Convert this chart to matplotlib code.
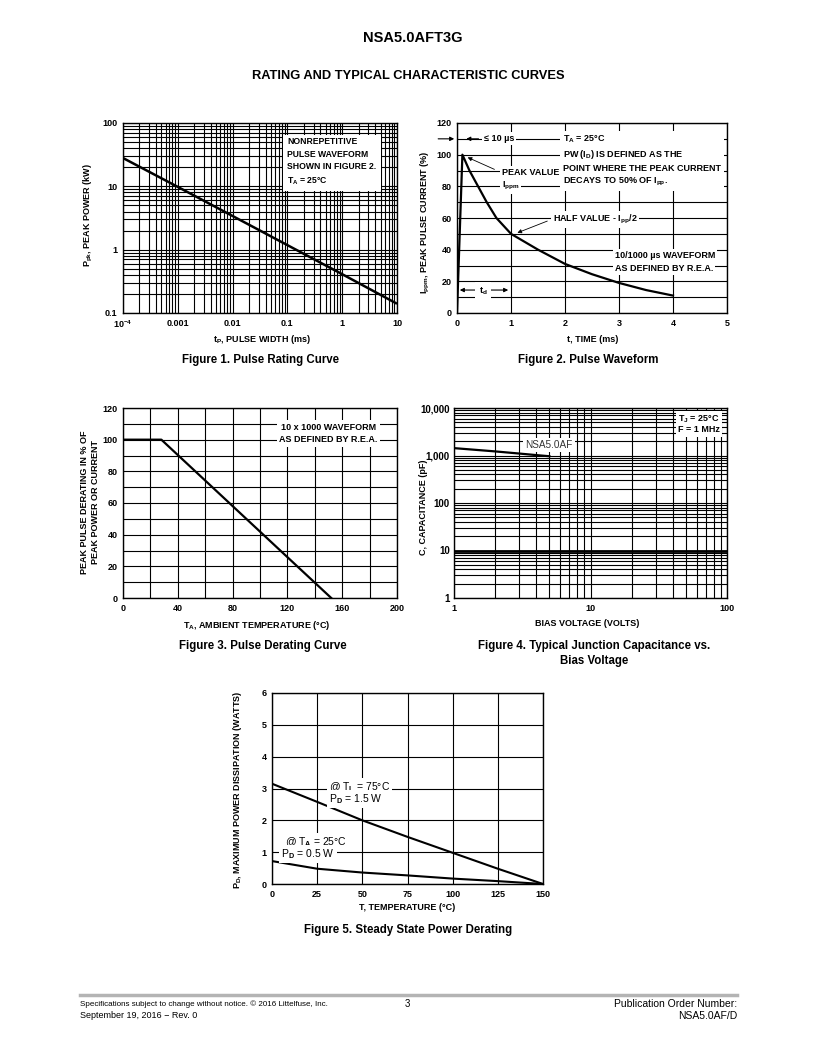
import matplotlib
matplotlib.use("Agg")
import matplotlib.pyplot as plt
import numpy as np
from matplotlib import font_manager
from matplotlib.ticker import FixedLocator, LogLocator, NullFormatter

names = {f.name for f in font_manager.fontManager.ttflist}
narrow = 'Liberation Sans Narrow' if 'Liberation Sans Narrow' in names else 'Liberation Sans'

plt.rcParams['font.family'] = ['Liberation Sans', 'DejaVu Sans']
plt.rcParams['font.weight'] = 'bold'
plt.rcParams['mathtext.fontset'] = 'custom'
plt.rcParams['mathtext.rm'] = 'Liberation Sans'
plt.rcParams['mathtext.bf'] = 'Liberation Sans:bold'
plt.rcParams['mathtext.it'] = 'Liberation Sans:italic'
plt.rcParams['mathtext.default'] = 'bf'

# ---- data ----
# fig 1: pulse rating curve
tp_ms = [1e-4, 1e-3, 1e-2, 0.1, 1, 10]
ppk_kw = [28, 9.8, 3.4, 1.18, 0.41, 0.14]
# fig 2: pulse waveform
t_ms = [0, 0.1, 0.23, 0.39, 0.55, 0.73, 1.0, 1.5, 2.0, 2.5, 3.0, 3.5, 4.0]
ippm = [0, 100, 90, 80, 70, 60, 50, 40, 31, 24.5, 19, 14.5, 11]
# fig 3: pulse derating
ta_c = [0, 28, 152]
derate_pct = [100, 100, 0]
# fig 4: junction capacitance
bias_v = [1, 2, 3, 4, 5]
cap_pf = [1430, 1220, 1100, 1020, 965]
# fig 5: steady state power derating
temp_c = [0, 25, 50, 75, 100, 125, 150]
pd_tl = [3.15, 2.58, 2.0, 1.48, 0.98, 0.48, 0.0]
pd_ta = [0.72, 0.48, 0.36, 0.27, 0.17, 0.09, 0.0]

W, H = 816, 1057
fig = plt.figure(figsize=(W / 100, H / 100), dpi=100)

TICK = 6.5
LAB = 6.5
CAP = 8.3


def ax_at(l, t, r, b):
    return fig.add_axes([l / W, 1 - b / H, (r - l) / W, (b - t) / H])


def ftext(x, y, s, **kw):
    fig.text(x / W, 1 - y / H, s, **kw)


def style(ax):
    ax.grid(True, which='both', color='black', lw=0.8)
    ax.set_axisbelow(True)
    ax.tick_params(which='both', length=0, labelsize=TICK, pad=4)
    for sp in ax.spines.values():
        sp.set_linewidth(1.0)
    for lab in ax.get_xticklabels() + ax.get_yticklabels():
        lab.set_fontweight('bold')


box = dict(facecolor='white', edgecolor='none', pad=1.5)

# ---- page headings ----
ftext(413, 38, 'NSA5.0AFT3G', ha='center', va='center', fontsize=10.5)
ftext(408, 76, 'RATING AND TYPICAL CHARACTERISTIC CURVES', ha='center', va='center', fontsize=9.3)

# ---- Figure 1 ----
ax1 = ax_at(123, 123, 397, 313)
ax1.set_xscale('log')
ax1.set_yscale('log')
ax1.plot(tp_ms, ppk_kw, color='black', lw=1.8, solid_capstyle='butt')
ax1.set_xlim(1e-4, 10)
ax1.set_ylim(0.1, 100)
ax1.xaxis.set_major_locator(FixedLocator([1e-4, 1e-3, 1e-2, 0.1, 1, 10]))
ax1.xaxis.set_minor_locator(LogLocator(base=10, subs=np.arange(2, 10)))
ax1.yaxis.set_major_locator(FixedLocator([0.1, 1, 10, 100]))
ax1.yaxis.set_minor_locator(LogLocator(base=10, subs=np.arange(2, 10)))
ax1.xaxis.set_minor_formatter(NullFormatter())
ax1.yaxis.set_minor_formatter(NullFormatter())
ax1.set_xticklabels(['10$^{-4}$', '0.001', '0.01', '0.1', '1', '10'])
ax1.set_yticklabels(['0.1', '1', '10', '100'])
style(ax1)
ax1.text(0.60, 0.925, 'NONREPETITIVE\nPULSE WAVEFORM\nSHOWN IN FIGURE 2.\nT$_A$ = 25°C',
         transform=ax1.transAxes, ha='left', va='top', fontsize=6.2, linespacing=1.5,
         bbox=dict(facecolor='white', edgecolor='none', pad=3))
ftext(262, 339, 't$_P$, PULSE WIDTH (ms)', ha='center', va='center', fontsize=LAB)
ftext(88, 215, 'P$_{pk}$, PEAK POWER (kW)', ha='center', va='center', fontsize=LAB, rotation=90)
ftext(261, 360, 'Figure 1. Pulse Rating Curve', ha='center', va='center', fontsize=CAP)

# ---- Figure 2 ----
ax2 = ax_at(457, 123, 727, 313)
ax2.plot(t_ms, ippm, color='black', lw=1.6)
ax2.set_xlim(0, 5)
ax2.set_ylim(0, 120)
ax2.set_xticks(range(0, 6))
ax2.set_yticks(range(0, 121, 20))
ax2.yaxis.set_minor_locator(FixedLocator(range(10, 120, 20)))
ax2.xaxis.set_minor_locator(FixedLocator([]))
style(ax2)
arr = dict(arrowstyle='-|>', color='black', lw=0.8, mutation_scale=6)
ax2.annotate('', xy=(0, 110), xytext=(-0.4, 110), arrowprops=arr, annotation_clip=False)
ax2.annotate('', xy=(0.12, 110), xytext=(0.45, 110), arrowprops=arr)
ax2.text(0.5, 110, '≤ 10 µs', ha='left', va='center', fontsize=6.5, bbox=box)
ax2.text(1.96, 113.5, 'T$_A$ = 25°C\nPW (I$_D$) IS DEFINED AS THE\nPOINT WHERE THE PEAK CURRENT\nDECAYS TO 50% OF I$_{pp}$.',
         ha='left', va='top', fontsize=6.5, linespacing=1.4, bbox=dict(facecolor='white', edgecolor='none', pad=2))
ax2.annotate('', xy=(0.15, 99), xytext=(0.74, 90), arrowprops=dict(arrowstyle='-|>', color='black', lw=0.6, mutation_scale=6))
ax2.text(0.83, 89, 'PEAK VALUE', ha='left', va='center', fontsize=6.5, bbox=box)
ax2.text(0.83, 80, 'I$_{ppm}$', ha='left', va='center', fontsize=6.5, bbox=box)
ax2.annotate('', xy=(1.07, 50), xytext=(1.72, 58.7), arrowprops=dict(arrowstyle='-|>', color='black', lw=0.6, mutation_scale=6))
ax2.text(1.77, 59, 'HALF VALUE - I$_{pp}$/2', ha='left', va='center', fontsize=6.5, bbox=box)
ax2.text(2.92, 36, '10/1000 µs WAVEFORM', ha='left', va='center', fontsize=6.5, bbox=box)
ax2.text(2.92, 28, 'AS DEFINED BY R.E.A.', ha='left', va='center', fontsize=6.5, bbox=box)
ax2.annotate('', xy=(0, 14.5), xytext=(1, 14.5), arrowprops=dict(arrowstyle='<|-|>', color='black', lw=0.8, mutation_scale=6))
ax2.text(0.48, 13.5, 't$_d$', ha='center', va='center', fontsize=6.5, bbox=dict(facecolor='white', edgecolor='none', pad=2.5))
ftext(593, 339, 't, TIME (ms)', ha='center', va='center', fontsize=LAB)
ftext(425, 222, 'I$_{ppm}$, PEAK PULSE CURRENT (%)', ha='center', va='center', fontsize=LAB, rotation=90)
ftext(588, 360, 'Figure 2. Pulse Waveform', ha='center', va='center', fontsize=CAP)

# ---- Figure 3 ----
ax3 = ax_at(123, 408, 397, 598)
ax3.plot(ta_c, derate_pct, color='black', lw=1.6)
ax3.set_xlim(0, 200)
ax3.set_ylim(0, 120)
ax3.set_xticks(range(0, 201, 40))
ax3.set_yticks(range(0, 121, 20))
ax3.xaxis.set_minor_locator(FixedLocator(range(20, 200, 40)))
ax3.yaxis.set_minor_locator(FixedLocator(range(10, 120, 20)))
style(ax3)
ax3.text(150, 104, '10 x 1000 WAVEFORM\nAS DEFINED BY R.E.A.', ha='center', va='center',
         fontsize=6.5, linespacing=1.45, bbox=dict(facecolor='white', edgecolor='none', pad=2))
ftext(257, 625, 'T$_A$, AMBIENT TEMPERATURE (°C)', ha='center', va='center', fontsize=LAB)
ftext(90, 502, 'PEAK PULSE DERATING IN % OF\nPEAK POWER OR CURRENT', ha='center', va='center',
      fontsize=LAB, rotation=90, linespacing=1.3)
ftext(263, 646, 'Figure 3. Pulse Derating Curve', ha='center', va='center', fontsize=CAP)

# ---- Figure 4 ----
ax4 = ax_at(454, 408, 727, 598)
ax4.set_xscale('log')
ax4.set_yscale('log')
ax4.plot(bias_v, cap_pf, color='black', lw=1.6)
ax4.set_xlim(1, 100)
ax4.set_ylim(1, 10000)
ax4.xaxis.set_major_locator(FixedLocator([1, 10, 100]))
ax4.yaxis.set_major_locator(FixedLocator([1, 10, 100, 1000, 10000]))
ax4.xaxis.set_minor_locator(LogLocator(base=10, subs=np.arange(2, 10)))
ax4.yaxis.set_minor_locator(LogLocator(base=10, subs=np.arange(2, 10)))
ax4.xaxis.set_minor_formatter(NullFormatter())
ax4.yaxis.set_minor_formatter(NullFormatter())
ax4.set_xticklabels(['1', '10', '100'])
ax4.set_yticklabels(['1', '10', '100', '1,000', '10,000'])
style(ax4)
for lab in ax4.get_yticklabels():
    lab.set_family(narrow)
    lab.set_fontsize(7)
ax4.tick_params(axis='y', pad=3)
ax4.axhline(10, color='black', lw=2)
ax4.text(4.97, 1660, 'NSA5.0AF', ha='center', va='center', fontsize=7.2, fontweight='normal',
         color='#333333', bbox=box)
ax4.text(44, 5900, 'T$_J$ = 25°C', ha='left', va='center', fontsize=6.5, bbox=box)
ax4.text(44, 3450, 'F = 1 MHz', ha='left', va='center', fontsize=6.5, bbox=box)
ftext(587, 623, 'BIAS VOLTAGE (VOLTS)', ha='center', va='center', fontsize=LAB)
ftext(423, 507, 'C, CAPACITANCE (pF)', ha='center', va='center', fontsize=LAB, rotation=90)
ftext(594, 646, 'Figure 4. Typical Junction Capacitance vs.', ha='center', va='center', fontsize=CAP)
ftext(594, 661, 'Bias Voltage', ha='center', va='center', fontsize=CAP)

# ---- Figure 5 ----
ax5 = ax_at(272, 693, 543, 884)
ax5.plot(temp_c, pd_tl, color='black', lw=1.5)
ax5.plot(temp_c, pd_ta, color='black', lw=1.5)
ax5.set_xlim(0, 150)
ax5.set_ylim(0, 6)
ax5.set_xticks(range(0, 151, 25))
ax5.set_yticks(range(0, 7))
style(ax5)
ax5.text(31.5, 3.05, '@ T$_{\\mathrm{L}}$ = 75°C', ha='left', va='center', fontsize=7.5, fontweight='normal', bbox=box)
ax5.text(31.5, 2.67, 'P$_{\\mathrm{D}}$ = 1.5 W', ha='left', va='center', fontsize=7.5, fontweight='normal', bbox=box)
ax5.text(7.2, 1.32, '@ T$_{\\mathrm{A}}$ = 25°C', ha='left', va='center', fontsize=7.5, fontweight='normal', bbox=box)
ax5.text(5, 0.94, 'P$_{\\mathrm{D}}$ = 0.5 W', ha='left', va='center', fontsize=7.5, fontweight='normal', bbox=box)
ftext(407, 908, 'T, TEMPERATURE (°C)', ha='center', va='center', fontsize=LAB)
ftext(237, 790, 'P$_D$, MAXIMUM POWER DISSIPATION (WATTS)', ha='center', va='center', fontsize=LAB, rotation=90)
ftext(408, 930, 'Figure 5. Steady State Power Derating', ha='center', va='center', fontsize=CAP)

# ---- footer ----
fig.add_artist(plt.Line2D([80 / W, 737 / W], [1 - 995 / H, 1 - 995 / H], color='#b4b4b4', lw=2.5))
ftext(80, 1004, 'Specifications subject to change without notice. © 2016 Littelfuse, Inc.', ha='left',
      va='center', fontsize=5.8, fontweight='normal', family=narrow)
ftext(80, 1016, 'September 19, 2016 − Rev. 0', ha='left', va='center', fontsize=6.5, fontweight='normal')
ftext(407, 1004, '3', ha='center', va='center', fontsize=7, fontweight='normal')
ftext(737, 1004, 'Publication Order Number:', ha='right', va='center', fontsize=7.5, fontweight='normal')
ftext(737, 1016, 'NSA5.0AF/D', ha='right', va='center', fontsize=7.5, fontweight='normal')

fig.savefig('out.png', dpi=100)
